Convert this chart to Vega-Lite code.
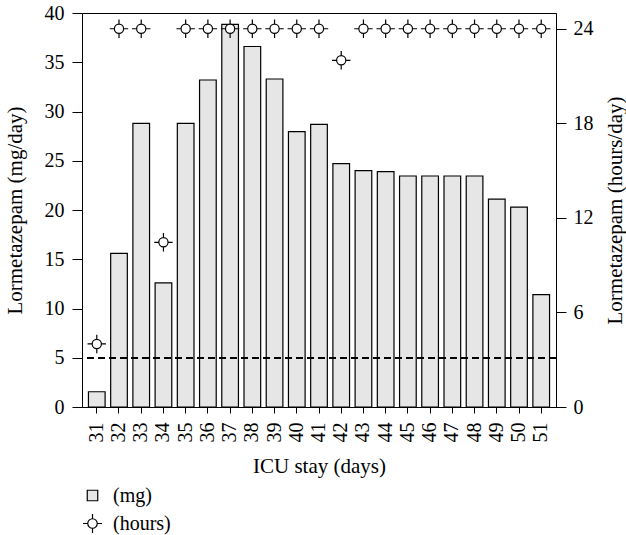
{
  "$schema": "https://vega.github.io/schema/vega-lite/v6.json",
  "width": 474,
  "height": 394,
  "autosize": "none",
  "padding": {"left": 82, "top": 13, "right": 70, "bottom": 128},
  "background": "white",
  "config": {
    "font": "Liberation Serif",
    "view": {"stroke": "black", "strokeWidth": 1},
    "axis": {
      "domainColor": "black", "tickColor": "black", "labelColor": "black", "titleColor": "black",
      "grid": false, "labelFontSize": 20, "titleFontSize": 21, "titleFontWeight": "normal",
      "labelFont": "Liberation Serif", "titleFont": "Liberation Serif", "domainWidth": 1, "tickWidth": 1
    },
    "legend": {
      "orient": "none", "legendX": 0, "legendY": 472, "title": null,
      "labelFontSize": 20, "labelFont": "Liberation Serif", "labelColor": "black",
      "symbolStrokeColor": "black", "symbolStrokeWidth": 1.2, "symbolSize": 361,
      "labelOffset": 10, "rowPadding": 5
    }
  },
  "data": {"values": [
    {"day": 31, "mg": 1.55, "hours": 4.0},
    {"day": 32, "mg": 15.6, "hours": 24},
    {"day": 33, "mg": 28.8, "hours": 24},
    {"day": 34, "mg": 12.6, "hours": 10.45},
    {"day": 35, "mg": 28.8, "hours": 24},
    {"day": 36, "mg": 33.2, "hours": 24},
    {"day": 37, "mg": 38.85, "hours": 24},
    {"day": 38, "mg": 36.6, "hours": 24},
    {"day": 39, "mg": 33.3, "hours": 24},
    {"day": 40, "mg": 27.95, "hours": 24},
    {"day": 41, "mg": 28.7, "hours": 24},
    {"day": 42, "mg": 24.7, "hours": 22.0},
    {"day": 43, "mg": 24.0, "hours": 24},
    {"day": 44, "mg": 23.9, "hours": 24},
    {"day": 45, "mg": 23.45, "hours": 24},
    {"day": 46, "mg": 23.45, "hours": 24},
    {"day": 47, "mg": 23.45, "hours": 24},
    {"day": 48, "mg": 23.45, "hours": 24},
    {"day": 49, "mg": 21.1, "hours": 24},
    {"day": 50, "mg": 20.3, "hours": 24},
    {"day": 51, "mg": 11.4, "hours": 24}
  ]},
  "layer": [
    {
      "mark": {"type": "bar", "stroke": "black", "strokeWidth": 1.2},
      "encoding": {
        "x": {"field": "day", "type": "ordinal",
          "scale": {"paddingInner": 0.25, "paddingOuter": 0.29},
          "axis": {"title": "ICU stay (days)", "labelAngle": -90, "tickSize": 6, "labelPadding": 9, "titlePadding": 13, "domain": true}},
        "y": {"field": "mg", "type": "quantitative", "scale": {"domain": [0, 40]},
          "axis": {"title": "Lormetazepam (mg/day)", "values": [0, 5, 10, 15, 20, 25, 30, 35, 40], "tickSize": 10, "labelPadding": 8, "titlePadding": 19}},
        "fill": {"datum": "(mg)", "type": "nominal",
          "scale": {"domain": ["(mg)", "(hours)"], "range": ["#e6e6e6", "white"]},
          "legend": {
            "encode": {"symbols": {"update": {
              "shape": {"signal": "datum.value === '(mg)' ? 'square' : 'M-1,0H-0.5M0.5,0H1M0,-1V-0.5M0,0.5V1M0.5,0A0.5,0.5,0,1,1,-0.5,0A0.5,0.5,0,1,1,0.5,0Z'"},
              "size": {"signal": "datum.value === '(mg)' ? 110 : 361"},
              "stroke": {"value": "black"},
              "strokeWidth": {"value": 1.2},
              "opacity": {"value": 1}
            }}}
          }}
      }
    },
    {
      "mark": {"type": "rule", "strokeDash": [7, 4], "color": "black", "strokeWidth": 0.9},
      "encoding": {"y": {"datum": 5, "type": "quantitative", "scale": {"domain": [0, 40]}, "axis": null}}
    },
    {
      "mark": {"type": "point", "shape": "M-1,0H-0.5M0.5,0H1M0,-1V-0.5M0,0.5V1M0.5,0A0.5,0.5,0,1,1,-0.5,0A0.5,0.5,0,1,1,0.5,0Z",
        "size": 340, "filled": true, "stroke": "black", "strokeWidth": 1.2, "opacity": 1},
      "encoding": {
        "x": {"field": "day", "type": "ordinal"},
        "y": {"field": "hours", "type": "quantitative", "scale": {"domain": [0, 25]},
          "axis": {"orient": "right", "title": "Lormetazepam (hours/day)", "values": [0, 6, 12, 18, 24], "tickSize": 10, "labelPadding": 7, "titlePadding": 32, "titleAngle": 270}},
        "fill": {"datum": "(hours)", "type": "nominal"}
      }
    }
  ],
  "resolve": {"scale": {"y": "independent"}}
}
